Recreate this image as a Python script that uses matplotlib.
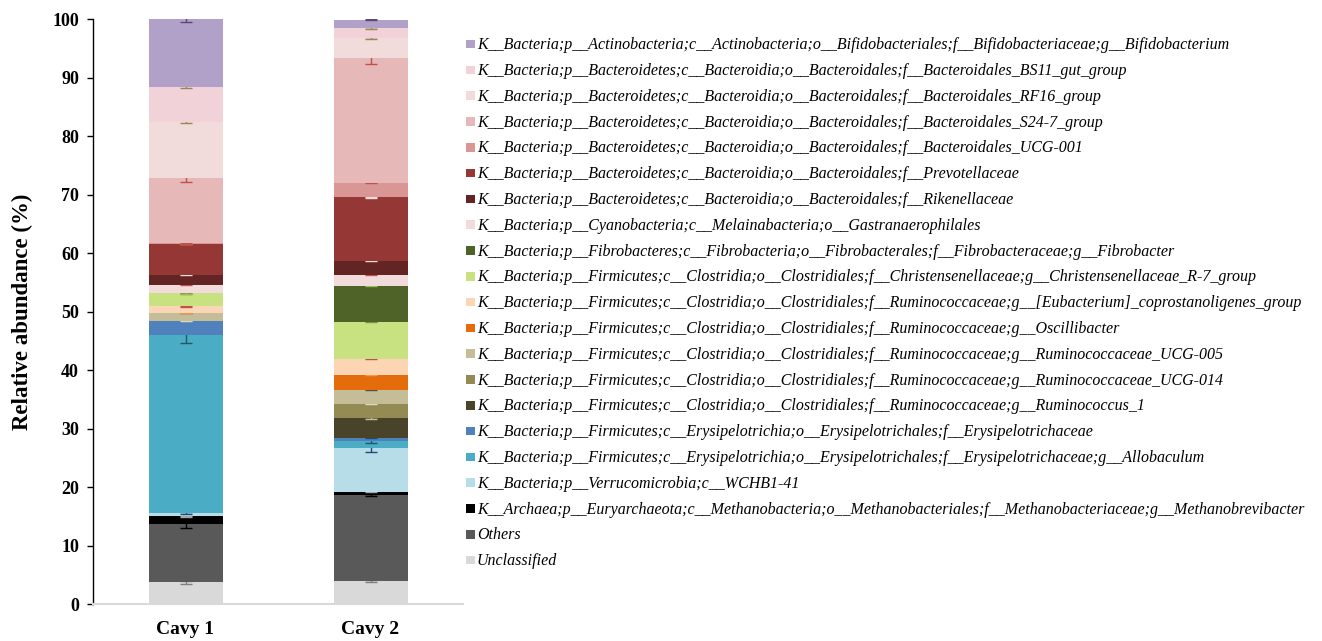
import matplotlib
matplotlib.use("Agg")
import matplotlib.pyplot as plt
from matplotlib.patches import Rectangle
import numpy as np

plt.rcParams["font.family"] = ["Liberation Serif", "DejaVu Serif"]

samples = ["Cavy 1", "Cavy 2"]

# taxa listed from the bottom of the stack to the top
taxa = [
    "Unclassified",
    "Others",
    "K__Archaea;p__Euryarchaeota;c__Methanobacteria;o__Methanobacteriales;f__Methanobacteriaceae;g__Methanobrevibacter",
    "K__Bacteria;p__Verrucomicrobia;c__WCHB1-41",
    "K__Bacteria;p__Firmicutes;c__Erysipelotrichia;o__Erysipelotrichales;f__Erysipelotrichaceae;g__Allobaculum",
    "K__Bacteria;p__Firmicutes;c__Erysipelotrichia;o__Erysipelotrichales;f__Erysipelotrichaceae",
    "K__Bacteria;p__Firmicutes;c__Clostridia;o__Clostridiales;f__Ruminococcaceae;g__Ruminococcus_1",
    "K__Bacteria;p__Firmicutes;c__Clostridia;o__Clostridiales;f__Ruminococcaceae;g__Ruminococcaceae_UCG-014",
    "K__Bacteria;p__Firmicutes;c__Clostridia;o__Clostridiales;f__Ruminococcaceae;g__Ruminococcaceae_UCG-005",
    "K__Bacteria;p__Firmicutes;c__Clostridia;o__Clostridiales;f__Ruminococcaceae;g__Oscillibacter",
    "K__Bacteria;p__Firmicutes;c__Clostridia;o__Clostridiales;f__Ruminococcaceae;g__[Eubacterium]_coprostanoligenes_group",
    "K__Bacteria;p__Firmicutes;c__Clostridia;o__Clostridiales;f__Christensenellaceae;g__Christensenellaceae_R-7_group",
    "K__Bacteria;p__Fibrobacteres;c__Fibrobacteria;o__Fibrobacterales;f__Fibrobacteraceae;g__Fibrobacter",
    "K__Bacteria;p__Cyanobacteria;c__Melainabacteria;o__Gastranaerophilales",
    "K__Bacteria;p__Bacteroidetes;c__Bacteroidia;o__Bacteroidales;f__Rikenellaceae",
    "K__Bacteria;p__Bacteroidetes;c__Bacteroidia;o__Bacteroidales;f__Prevotellaceae",
    "K__Bacteria;p__Bacteroidetes;c__Bacteroidia;o__Bacteroidales;f__Bacteroidales_UCG-001",
    "K__Bacteria;p__Bacteroidetes;c__Bacteroidia;o__Bacteroidales;f__Bacteroidales_S24-7_group",
    "K__Bacteria;p__Bacteroidetes;c__Bacteroidia;o__Bacteroidales;f__Bacteroidales_RF16_group",
    "K__Bacteria;p__Bacteroidetes;c__Bacteroidia;o__Bacteroidales;f__Bacteroidales_BS11_gut_group",
    "K__Bacteria;p__Actinobacteria;c__Actinobacteria;o__Bifidobacteriales;f__Bifidobacteriaceae;g__Bifidobacterium",
]

# relative abundance (%) per taxon, same order as taxa
cavy1 = [3.76, 9.9, 1.35, 0.6, 30.5, 2.4, 0.0, 0.0, 1.3, 0.05, 1.1, 2.2,
         0.05, 1.4, 1.7, 5.3, 0.1, 11.2, 9.6, 6.0, 11.5]
cavy2 = [3.93, 14.8, 0.55, 7.5, 1.14, 0.57, 3.35, 2.45, 2.4, 2.55, 2.75, 6.35,
         6.1, 1.9, 2.4, 10.8, 2.5, 21.3, 3.5, 1.7, 1.4]

# standard deviations
err1 = [0.3, 0.65, 0.15, 0.1, 1.5, 0.1, 0.1, 0.1, 0.1, 0.1, 0.1, 0.1,
        0.1, 0.1, 0.1, 0.1, 0.1, 0.7, 0.2, 0.2, 0.4]
err2 = [0.15, 0.2, 0.1, 0.8, 0.3, 0.1, 0.1, 0.1, 0.1, 0.1, 0.1, 0.1,
        0.1, 0.1, 0.1, 0.1, 0.1, 0.9, 0.2, 0.2, 0.1]

colors = ["#D9D9D9", "#595959", "#000000", "#B7DEE8", "#4BACC6", "#4F81BD",
          "#494429", "#948A54", "#C4BD97", "#E46C0A", "#FCD5B4", "#C8E282",
          "#4F6228", "#F2DCDB", "#632523", "#953735", "#DA9694", "#E6B8B7",
          "#F2DCDB", "#F0D2D8", "#B1A0C7"]

err_colors = ["#7F7F7F", "#000000", "#A6A6A6", "#1F497D", "#215968", "#1F497D",
              "#C4BD97", "#DDD9C4", "#4F4F4F", "#F79646", "#C0504D", "#77933C",
              "#9BBB59", "#C0504D", "#F2DCDB", "#F2DCDB", "#C0504D", "#C0504D",
              "#948A54", "#948A54", "#5F497A"]

W, H = 1322, 641
fig = plt.figure(figsize=(W / 100, H / 100), dpi=100)
ax = fig.add_axes([93 / W, 1 - 604.3 / H, (463 - 93) / W, (604.3 - 19.3) / H])

x = np.arange(len(samples))
data = np.array([cavy1, cavy2]).T
errs = np.array([err1, err2]).T
bottom = np.zeros(len(samples))
for i, (vals, ev) in enumerate(zip(data, errs)):
    ax.bar(x, vals, width=0.4, bottom=bottom, color=colors[i],
           linewidth=0, zorder=2 + 2 * i)
    top = bottom + vals
    ax.errorbar(x, top, yerr=ev, fmt="none", ecolor=err_colors[i],
                elinewidth=1, capsize=4.5, capthick=1, zorder=3 + 2 * i)
    bottom = top

ax.set_xlim(-0.5, 1.5)
ax.set_ylim(0, 100)
ax.set_yticks(np.arange(0, 101, 10))
ax.set_xticks(x)
ax.set_xticklabels(samples, fontsize=14, fontweight="bold")
ax.tick_params(axis="x", length=0, pad=12)
ax.tick_params(axis="y", length=4, width=1, direction="out", pad=6,
               labelsize=13)
for lab in ax.get_yticklabels():
    lab.set_fontweight("bold")

for side in ("top", "right"):
    ax.spines[side].set_visible(False)
ax.spines["left"].set_color("black")
ax.spines["left"].set_linewidth(1)
ax.spines["bottom"].set_color("#D9D9D9")
ax.spines["bottom"].set_linewidth(1.5)

ax.set_ylabel("Relative abundance (%)", fontsize=16.5, fontweight="bold",
              labelpad=14)

# legend, top row is the top of the stack
row0, pitch = 44, 25.8
for k, i in enumerate(range(len(taxa) - 1, -1, -1)):
    yc = row0 + k * pitch
    fig.add_artist(Rectangle((466 / W, 1 - (yc + 4.3) / H), 8.6 / W, 8.6 / H,
                             transform=fig.transFigure, color=colors[i],
                             linewidth=0))
    fig.text(477 / W, 1 - (yc + 5.2) / H, taxa[i], fontsize=11.5,
             style="italic", va="baseline", ha="left")

fig.savefig("out.png", dpi=100)
